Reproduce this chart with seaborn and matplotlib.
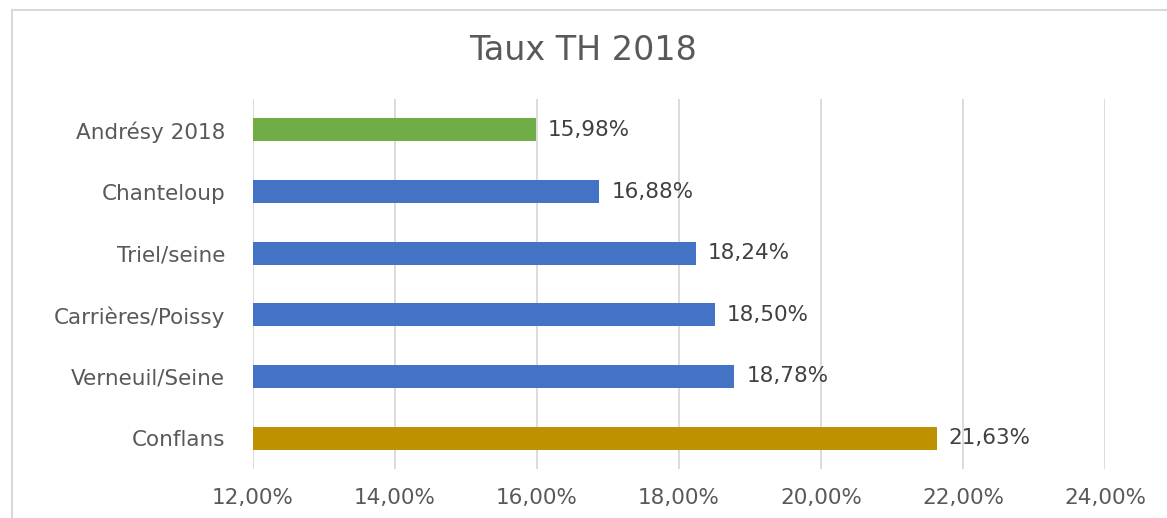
import matplotlib
matplotlib.use('Agg')
import matplotlib.pyplot as plt
from matplotlib.lines import Line2D
from matplotlib.ticker import FuncFormatter
import seaborn as sns
import pandas as pd

# -------------------------
# Data
# -------------------------
communes = ['Andrésy 2018', 'Chanteloup', 'Triel/seine',
            'Carrières/Poissy', 'Verneuil/Seine', 'Conflans']
taux = [15.98, 16.88, 18.24, 18.50, 18.78, 21.63]
couleurs = ['#70AD47', '#4472C4', '#4472C4', '#4472C4', '#4472C4', '#BF9000']
x_ticks = [12, 14, 16, 18, 20, 22, 24]

df = pd.DataFrame({'commune': communes, 'taux': taux})

GRAY = '#595959'

sns.set_style('white')
plt.rcParams['font.family'] = ['DejaVu Sans']

fig = plt.figure(figsize=(11.67, 5.18), dpi=100)
ax = fig.add_axes([253 / 1167, 1 - 469 / 518, (1105 - 253) / 1167, (469 - 99) / 518])

sns.barplot(data=df, x='taux', y='commune', hue='commune', palette=couleurs,
            legend=False, width=0.37, saturation=1, linewidth=0,
            ax=ax, orient='h')

ax.set_xlim(12, 24)
ax.set_ylim(5.5, -0.5)
ax.set_xticks(x_ticks)
ax.xaxis.set_major_formatter(FuncFormatter(lambda v, p: f'{v:.2f}%'.replace('.', ',')))
ax.grid(axis='x', color='#D9D9D9', linewidth=1.3)
ax.set_axisbelow(True)
for s in ax.spines.values():
    s.set_visible(False)
ax.set_xlabel('')
ax.set_ylabel('')
ax.tick_params(axis='both', length=0, labelsize=15.5, labelcolor=GRAY)
ax.tick_params(axis='x', pad=14)
ax.tick_params(axis='y', pad=20)

# data labels
for i, v in enumerate(taux):
    ax.text(v + 0.17, i, f'{v:.2f}%'.replace('.', ','), va='center', ha='left',
            fontsize=15.5, color='#404040')

fig.text(583 / 1167, 1 - 50 / 518, 'Taux TH 2018', ha='center', va='center',
         fontsize=24, color=GRAY)

# chart frame (top and left edges visible)
fig.add_artist(Line2D([12 / 1167, 12 / 1167], [0, 1 - 10 / 518],
                      transform=fig.transFigure, color='#D9D9D9', linewidth=1.5))
fig.add_artist(Line2D([12 / 1167, 1], [1 - 10 / 518, 1 - 10 / 518],
                      transform=fig.transFigure, color='#D9D9D9', linewidth=1.5))

fig.savefig('out.png', dpi=100)
